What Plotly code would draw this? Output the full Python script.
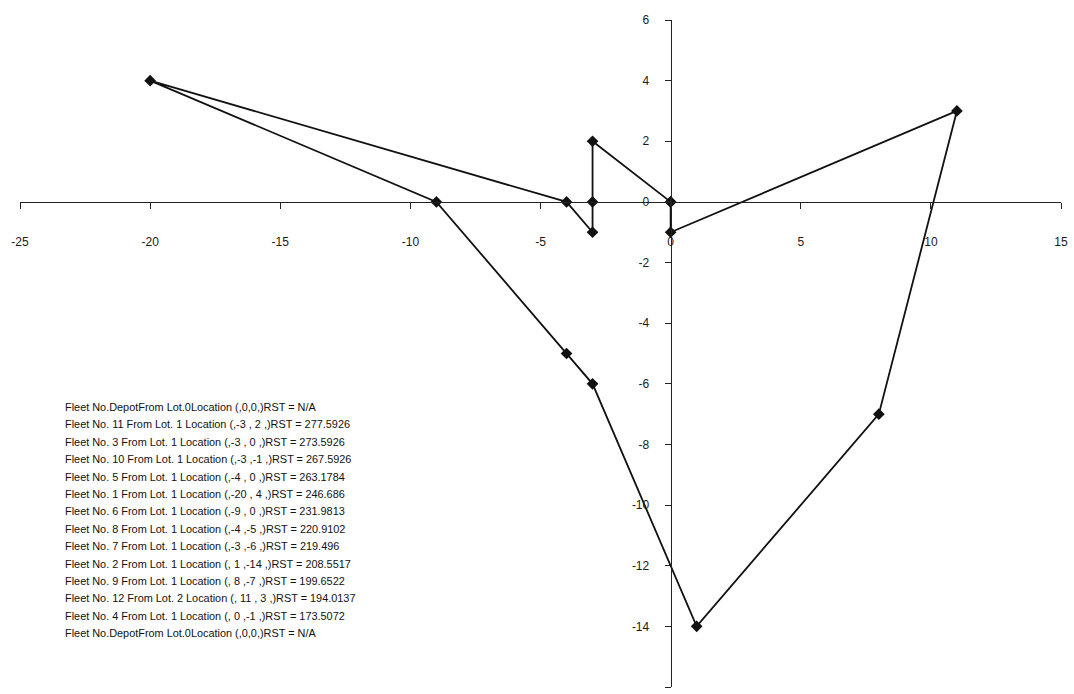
import plotly.graph_objects as go

# Route stops in visiting order (depot -> ... -> depot)
fleet = ["Depot", "11", "3", "10", "5", "1", "6", "8", "7", "2", "9", "12", "4", "Depot"]
lots = ["0", "1", "1", "1", "1", "1", "1", "1", "1", "1", "1", "2", "1", "0"]
x_pos = [0, -3, -3, -3, -4, -20, -9, -4, -3, 1, 8, 11, 0, 0]
y_pos = [0, 2, 0, -1, 0, 4, 0, -5, -6, -14, -7, 3, -1, 0]
rst = ["N/A", "277.5926", "273.5926", "267.5926", "263.1784", "246.686", "231.9813",
       "220.9102", "219.496", "208.5517", "199.6522", "194.0137", "173.5072", "N/A"]

x_ticks = [-25, -20, -15, -10, -5, 0, 5, 10, 15]
y_ticks = [-16, -14, -12, -10, -8, -6, -4, -2, 0, 2, 4, 6]

X_MIN, X_MAX = -25, 15
Y_MIN, Y_MAX = -16, 6

W, H = 1074, 694
M_L, M_R, M_T, M_B = 20, 13, 20, 7

fig = go.Figure()
fig.add_trace(go.Scatter(
    x=x_pos, y=y_pos, mode="lines+markers",
    line=dict(color="#111111", width=1.8),
    marker=dict(symbol="diamond", size=9, color="#111111"),
    hoverinfo="x+y", showlegend=False,
))

# Text block listing every stop
lines = []
for f, lot, xv, yv, r in zip(fleet, lots, x_pos, y_pos, rst):
    if f == "Depot":
        lines.append(f"Fleet No.DepotFrom Lot.{lot}Location (,{xv},{yv},)RST = {r}")
    else:
        xs = f", {xv}" if xv >= 0 else f",{xv}"
        ys = f" {yv}" if yv >= 0 else f"{yv}"
        lines.append(f"Fleet No. {f} From Lot. {lot} Location ({xs} ,{ys} ,)RST = {r}")

plot_w = W - M_L - M_R
plot_h = H - M_T - M_B
text_left_px = 63
first_line_px = 407
line_step_px = 17.4
for i, txt in enumerate(lines):
    py = first_line_px + i * line_step_px
    fig.add_annotation(
        x=(text_left_px - M_L) / plot_w, y=1 - (py - M_T) / plot_h,
        xref="paper", yref="paper", showarrow=False,
        text=txt, align="left", xanchor="left", yanchor="middle",
        font=dict(family="Liberation Sans, Arial, sans-serif", size=10.9, color="#111111"),
    )

axis_font = dict(family="Liberation Sans, Arial, sans-serif", size=12, color="#1a1a1a")

fig.update_layout(
    width=W, height=H,
    margin=dict(l=M_L, r=M_R, t=M_T, b=M_B),
    paper_bgcolor="white", plot_bgcolor="white",
    font=axis_font,
    xaxis=dict(
        range=[X_MIN, X_MAX], tickvals=x_ticks, ticktext=[str(v) for v in x_ticks],
        anchor="free", position=(0 - Y_MIN) / (Y_MAX - Y_MIN),
        showline=True, linecolor="#222222", linewidth=1,
        ticks="outside", ticklen=6, tickcolor="#222222",
        ticklabelstandoff=23,
        showgrid=False, zeroline=False, tickfont=axis_font,
    ),
    yaxis=dict(
        range=[Y_MIN, Y_MAX], tickvals=y_ticks, ticktext=[str(v) for v in y_ticks],
        anchor="free", position=(0 - X_MIN) / (X_MAX - X_MIN),
        showline=True, linecolor="#222222", linewidth=1,
        ticks="outside", ticklen=6, tickcolor="#222222",
        ticklabelstandoff=13,
        showgrid=False, zeroline=False, tickfont=axis_font,
    ),
)

fig.write_html("out.html")
